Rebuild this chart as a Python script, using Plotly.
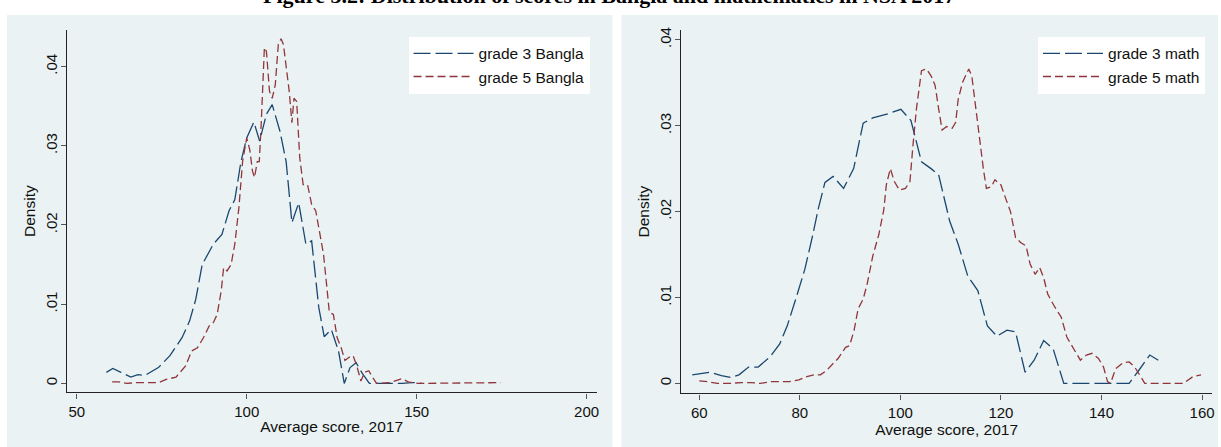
import plotly.graph_objects as go

# ---- data ----
bangla_g3_x = [58.7, 60.6, 63.0, 65.9, 68.0, 70.0, 74.0, 77.4, 81.0, 83.2, 85.0, 86.9, 90.2, 92.7, 94.8, 96.5, 98.3, 100.0,
               102.1, 103.8, 105.8, 107.5, 109.8, 111.6, 113.3, 115.3, 117.4, 119.1, 121.2, 122.8, 124.9, 127.0, 128.7,
               130.4, 132.2, 134.1, 136.1, 145.7, 148.6, 150.3, 151.5]
bangla_g3_y = [0.0014, 0.0019, 0.0014, 0.0008, 0.0011, 0.0010, 0.0020, 0.0035, 0.0058, 0.0079, 0.0106, 0.0150, 0.0176,
               0.0188, 0.0218, 0.0232, 0.0280, 0.0310, 0.0330, 0.0306, 0.0340, 0.0352, 0.0318, 0.0280, 0.0203, 0.0228,
               0.0176, 0.0180, 0.0096, 0.0059, 0.0068, 0.0041, 0.0000, 0.0020, 0.0026, 0.0012, 0.0000, 0.0000, 0.0001,
               0.0001, 0.0000]

bangla_g5_x = [60.4, 62.4, 64.7, 67.6, 71.6, 74.0, 76.3, 79.2, 82.0, 83.8, 85.5, 87.3, 89.0, 90.2, 91.3, 92.5, 93.2, 94.2,
               95.4, 96.5, 97.7, 98.8, 100.0, 100.9, 101.7, 102.3, 103.1, 103.7, 104.3, 105.2, 105.8, 106.7, 107.5, 108.4,
               109.3, 110.1, 110.8, 111.6, 112.5, 113.3, 113.9, 114.7, 115.6, 116.6, 117.9, 119.1, 120.3, 121.4, 122.6,
               123.5, 124.3, 125.5, 126.6, 127.8, 128.9, 130.1, 131.3, 132.4, 133.6, 134.7, 135.9, 137.0, 138.2, 142.2,
               144.6, 145.7, 147.5, 150.3, 174.7]
bangla_g5_y = [0.0002, 0.0002, 0.0000, 0.0001, 0.0001, 0.0001, 0.0005, 0.0008, 0.0022, 0.0041, 0.0045, 0.0058, 0.0073,
               0.0077, 0.0087, 0.0117, 0.0146, 0.0142, 0.0150, 0.0176, 0.0222, 0.0281, 0.0310, 0.0295, 0.0268, 0.0260,
               0.0280, 0.0280, 0.0331, 0.0424, 0.0419, 0.0369, 0.0360, 0.0377, 0.0428, 0.0435, 0.0428, 0.0398, 0.0369,
               0.0329, 0.0360, 0.0356, 0.0285, 0.0251, 0.0251, 0.0226, 0.0218, 0.0192, 0.0163, 0.0125, 0.0090, 0.0087,
               0.0058, 0.0045, 0.0029, 0.0033, 0.0035, 0.0022, 0.0003, 0.0014, 0.0016, 0.0008, 0.0000, 0.0001, 0.0005,
               0.0006, 0.0002, 0.0000, 0.0001]

math_g3_x = [58.6, 60.5, 62.1, 64.4, 66.3, 67.9, 69.8, 71.7, 74.1, 76.0, 77.5, 79.5, 81.0, 82.5, 83.7, 85.0, 86.6, 88.7,
             90.7, 92.6, 94.5, 97.6, 100.1, 102.1, 104.2, 106.1, 107.6, 109.8, 111.5, 113.4, 115.4, 117.3, 119.2, 121.2,
             122.9, 124.8, 126.6, 128.5, 130.4, 132.5, 145.5, 147.4, 149.6, 151.3]
math_g3_y = [0.0010, 0.0012, 0.0013, 0.0009, 0.0007, 0.0010, 0.0019, 0.0019, 0.0031, 0.0046, 0.0067, 0.0104, 0.0133,
             0.0171, 0.0204, 0.0234, 0.0241, 0.0227, 0.0250, 0.0303, 0.0309, 0.0314, 0.0319, 0.0306, 0.0258, 0.0250,
             0.0243, 0.0189, 0.0162, 0.0125, 0.0108, 0.0067, 0.0055, 0.0062, 0.0060, 0.0013, 0.0027, 0.0050, 0.0040,
             0.0000, 0.0000, 0.0015, 0.0033, 0.0027]

math_g5_x = [60.0, 61.7, 63.6, 66.0, 68.3, 70.2, 72.1, 74.4, 77.9, 79.8, 81.4, 82.9, 84.1, 85.3, 87.6, 89.1, 89.9, 90.8,
             91.6, 92.6, 93.4, 94.5, 95.7, 96.7, 97.2, 98.0, 98.8, 99.8, 101.0, 101.9, 102.5, 103.2, 104.2, 105.2, 106.1,
             106.9, 107.6, 108.3, 109.2, 110.3, 111.0, 111.5, 112.4, 113.6, 114.2, 115.0, 115.8, 116.5, 117.1, 118.1,
             118.8, 120.0, 120.9, 121.9, 122.9, 123.9, 125.0, 125.8, 126.8, 127.7, 128.5, 129.3, 130.7, 132.0, 133.1,
             134.3, 135.8, 137.0, 138.1, 139.4, 140.4, 141.2, 141.8, 142.8, 144.3, 145.5, 146.6, 147.8, 148.6, 156.3,
             158.2, 159.8]
math_g5_y = [0.0003, 0.0002, 0.0000, 0.0000, 0.0001, 0.0001, 0.0000, 0.0002, 0.0002, 0.0004, 0.0008, 0.0010, 0.0010,
             0.0015, 0.0029, 0.0042, 0.0044, 0.0062, 0.0087, 0.0098, 0.0116, 0.0148, 0.0173, 0.0202, 0.0231, 0.0250,
             0.0235, 0.0225, 0.0227, 0.0235, 0.0277, 0.0320, 0.0364, 0.0366, 0.0358, 0.0347, 0.0320, 0.0295, 0.0299,
             0.0297, 0.0304, 0.0331, 0.0351, 0.0366, 0.0358, 0.0320, 0.0281, 0.0250, 0.0227, 0.0229, 0.0237, 0.0231,
             0.0216, 0.0200, 0.0170, 0.0164, 0.0160, 0.0139, 0.0127, 0.0135, 0.0123, 0.0104, 0.0089, 0.0077, 0.0054,
             0.0042, 0.0027, 0.0033, 0.0035, 0.0029, 0.0019, 0.0002, 0.0000, 0.0017, 0.0024, 0.0025, 0.0019, 0.0008,
             0.0000, 0.0000, 0.0008, 0.0010]

left_xticks = [50, 100, 150, 200]
right_xticks = [60, 80, 100, 120, 140, 160]
y_tickvals = [0, 0.01, 0.02, 0.03, 0.04]
y_ticktext = ["0", ".01", ".02", ".03", ".04"]

title_text = "Figure 3.2: Distribution of scores in Bangla and mathematics in NSA 2017"

# ---- styling ----
W, H = 1221, 447
NAVY = "#1A476F"
MAROON = "#90353B"
BG = "#EAF2F3"
FONT = "Liberation Sans, Arial, sans-serif"

def px(x):
    return x / W

def py(y):
    return (H - y) / H

fig = go.Figure()

fig.add_trace(go.Scatter(x=bangla_g3_x, y=bangla_g3_y, mode="lines", name="grade 3 Bangla",
                         line=dict(color=NAVY, width=1.3, dash="17px,5px"), xaxis="x", yaxis="y", legend="legend"))
fig.add_trace(go.Scatter(x=bangla_g5_x, y=bangla_g5_y, mode="lines", name="grade 5 Bangla",
                         line=dict(color=MAROON, width=1.3, dash="8px,4px"), xaxis="x", yaxis="y", legend="legend"))
fig.add_trace(go.Scatter(x=math_g3_x, y=math_g3_y, mode="lines", name="grade 3 math",
                         line=dict(color=NAVY, width=1.3, dash="17px,5px"), xaxis="x2", yaxis="y2", legend="legend2"))
fig.add_trace(go.Scatter(x=math_g5_x, y=math_g5_y, mode="lines", name="grade 5 math",
                         line=dict(color=MAROON, width=1.3, dash="8px,4px"), xaxis="x2", yaxis="y2", legend="legend2"))

xcommon = dict(showline=True, linecolor="#222", linewidth=1.3, ticks="outside", ticklen=5, tickcolor="#555",
               tickwidth=1, showgrid=False, zeroline=False, tickfont=dict(family=FONT, size=15, color="#111"),
               title_font=dict(family=FONT, size=15.5, color="#111"), title_standoff=2)
ycommon = dict(showline=True, linecolor="#222", linewidth=1.3, ticks="outside", ticklen=5, tickcolor="#555",
               tickwidth=1, showgrid=True, gridcolor=BG, gridwidth=1.2, zeroline=False, tickangle=-90,
               tickvals=y_tickvals, ticktext=y_ticktext, ticklabelstandoff=-2,
               tickfont=dict(family=FONT, size=15, color="#111"),
               title_font=dict(family=FONT, size=15.5, color="#111"), title_standoff=3)

legend_common = dict(yanchor="top", xanchor="right", bgcolor="white", bordercolor=BG, borderwidth=1,
                     font=dict(family=FONT, size=15.5, color="#111"), tracegroupgap=0, itemwidth=60)

fig.update_layout(
    width=W, height=H, autosize=False,
    margin=dict(l=0, r=0, t=0, b=0),
    paper_bgcolor="white", plot_bgcolor="white",
    showlegend=True,
    xaxis=dict(domain=[px(67), px(598)], range=[47.07, 202.93], tickvals=left_xticks,
               title_text="Average score, 2017", anchor="y", **xcommon),
    yaxis=dict(domain=[py(392), py(27)], range=[-0.00113, 0.04464], title_text="Density", anchor="x", **ycommon),
    xaxis2=dict(domain=[px(683), px(1215)], range=[56.43, 161.98], tickvals=right_xticks,
                title_text="Average score, 2017", anchor="y2", **xcommon),
    yaxis2=dict(domain=[py(393), py(27)], range=[-0.00116, 0.04116], title_text="Density", anchor="x2", **ycommon),
    legend=dict(x=px(592), y=py(33), **legend_common),
    legend2=dict(x=px(1209), y=py(33), **legend_common),
    shapes=[
        dict(type="rect", xref="paper", yref="paper", x0=px(7), x1=px(614), y0=0, y1=py(12),
             fillcolor=BG, line=dict(width=0), layer="below"),
        dict(type="rect", xref="paper", yref="paper", x0=px(623), x1=1, y0=0, y1=py(12),
             fillcolor=BG, line=dict(width=0), layer="below"),
    ],
    annotations=[
        dict(text=title_text, xref="paper", yref="paper", x=px(610), y=py(-7.5), xanchor="center", yanchor="middle",
             showarrow=False, font=dict(family="Liberation Serif, Times New Roman, serif", size=22, color="black",
                                        weight="bold")),
    ],
)

fig.write_html("out.html")
